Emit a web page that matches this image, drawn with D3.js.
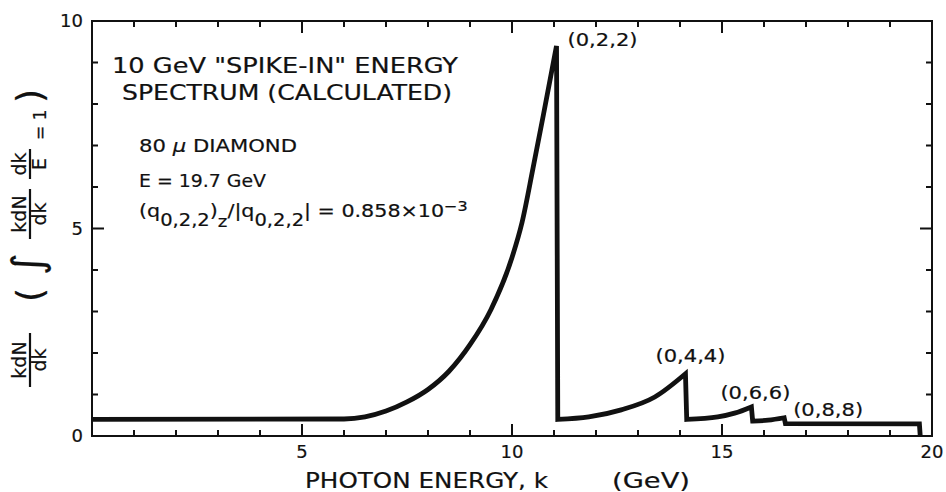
<!DOCTYPE html>
<html>
<head>
<meta charset="utf-8">
<script src="https://cdn.jsdelivr.net/npm/d3@7"></script>
<style>
  html, body { margin: 0; padding: 0; background: #fff; }
  svg { display: block; }
  text { font-family: "DejaVu Sans", sans-serif; fill: #111; stroke: #111; stroke-width: 0.2px; }
</style>
</head>
<body>
<svg id="chart" width="946" height="492"></svg>
<script>
// Calculated photon spectrum k dN/dk versus photon energy k (GeV),
// one array pair per coherent branch, ending at each branch's edge.
const energy022 = [0, 6.0, 6.5, 7.0, 7.5, 8.0, 8.5, 9.0, 9.5, 10.0, 10.24, 10.5, 10.75, 11.06];
const yield022  = [0.40, 0.41, 0.46, 0.60, 0.82, 1.12, 1.56, 2.20, 3.05, 4.30, 5.15, 6.45, 7.75, 9.40];
const energy044 = [11.09, 11.83, 12.6, 13.4, 14.13];
const yield044  = [0.40, 0.46, 0.63, 0.94, 1.50];
const energy066 = [14.16, 14.9, 15.3, 15.70];
const yield066  = [0.40, 0.46, 0.55, 0.70];
const energy088 = [15.73, 16.1, 16.48];
const yield088  = [0.36, 0.38, 0.44];
const energyTail = [16.51, 19.70, 19.72];
const yieldTail  = [0.30, 0.29, 0.0];

const branchNames = ["(0,2,2)", "(0,4,4)", "(0,6,6)", "(0,8,8)"];

const xMajorTicks = [5, 10, 15, 20];
const xTickLabels = ["5", "10", "15", "20"];
const xMinorTicks = [1, 2, 3, 4, 6, 7, 8, 9, 11, 12, 13, 14, 16, 17, 18, 19];
const yMajorTicks = [0, 5, 10];
const yTickLabels = ["0", "5", "10"];
const yMinorTicks = [1, 2, 3, 4, 6, 7, 8, 9];

const svg = d3.select("#chart");
const W = 946, H = 492;
const plotLeft = 92, plotRight = 932, plotTop = 21, plotBottom = 436;

const x = d3.scaleLinear().domain([0, 20]).range([plotLeft, plotRight]);
const y = d3.scaleLinear().domain([0, 10]).range([plotBottom, plotTop]);

svg.append("rect").attr("width", W).attr("height", H).attr("fill", "#fff");

// frame
svg.append("rect")
  .attr("x", plotLeft).attr("y", plotTop)
  .attr("width", plotRight - plotLeft).attr("height", plotBottom - plotTop)
  .attr("fill", "none").attr("stroke", "#111").attr("stroke-width", 2);

// ---- inward ticks on all four sides of the frame (filled bars) ----
const MINOR = 6, MAJOR = 12, TW = 2;
const tickBars = [];
xMinorTicks.forEach(v => tickBars.push({ v, len: MINOR, axis: "x" }));
xMajorTicks.filter(v => v < 20).forEach(v => tickBars.push({ v, len: MAJOR, axis: "x" }));
yMinorTicks.forEach(v => tickBars.push({ v, len: MINOR, axis: "y" }));
yMajorTicks.filter(v => v > 0 && v < 10).forEach(v => tickBars.push({ v, len: MAJOR, axis: "y" }));

const tickG = svg.append("g").attr("fill", "#111");
tickBars.forEach(t => {
  if (t.axis === "x") {
    tickG.append("rect").attr("x", x(t.v) - TW / 2).attr("y", plotBottom - t.len)
      .attr("width", TW).attr("height", t.len);
    tickG.append("rect").attr("x", x(t.v) - TW / 2).attr("y", plotTop)
      .attr("width", TW).attr("height", t.len);
  } else {
    tickG.append("rect").attr("x", plotLeft).attr("y", y(t.v) - TW / 2)
      .attr("width", t.len).attr("height", TW);
    tickG.append("rect").attr("x", plotRight - t.len).attr("y", y(t.v) - TW / 2)
      .attr("width", t.len).attr("height", TW);
  }
});

// tick labels
svg.append("g").selectAll("text").data(xMajorTicks).join("text")
  .attr("x", d => x(d)).attr("y", 458)
  .attr("text-anchor", "middle").attr("font-size", 18)
  .text((d, i) => xTickLabels[i]);
svg.append("g").selectAll("text").data(yMajorTicks).join("text")
  .attr("x", plotLeft - 9).attr("y", d => y(d)).attr("dy", "0.36em")
  .attr("text-anchor", "end").attr("font-size", 18)
  .text((d, i) => yTickLabels[i]);

// ---- spectrum: smooth rise within each branch, sharp drop at each edge ----
const zip = (ks, vs) => ks.map((k, i) => [k, vs[i]]);
const smooth = d3.line().x(d => x(d[0])).y(d => y(d[1])).curve(d3.curveMonotoneX);
const straight = d3.line().x(d => x(d[0])).y(d => y(d[1]));

const branches = [
  zip(energy022, yield022),
  zip(energy044, yield044),
  zip(energy066, yield066),
  zip(energy088, yield088)
];
const pieces = branches.map(b => smooth(b));
pieces.push(straight(zip(energyTail, yieldTail)));
const pathD = pieces.map((p, i) => i === 0 ? p : "L" + p.slice(1)).join("");

svg.append("path")
  .attr("d", pathD)
  .attr("fill", "none")
  .attr("stroke", "#111")
  .attr("stroke-width", 4.8)
  .attr("stroke-linejoin", "miter")
  .attr("stroke-linecap", "butt");

// ---- branch labels placed at each edge ----
const labelOffsets = [
  { dx: 11, dy: 0, anchor: "start" },
  { dx: 5, dy: -12, anchor: "middle" },
  { dx: 4, dy: -8, anchor: "middle" },
  { dx: 9, dy: -2, anchor: "start" }
];
branches.forEach((b, i) => {
  const peak = b[b.length - 1];
  const o = labelOffsets[i];
  svg.append("text")
    .attr("x", x(peak[0]) + o.dx)
    .attr("y", y(peak[1]) + o.dy)
    .attr("text-anchor", o.anchor)
    .attr("font-size", 18)
    .attr("textLength", 70)
    .attr("lengthAdjust", "spacingAndGlyphs")
    .text(branchNames[i]);
});

// ---- annotation block ----
function stretched(txt, x0, y0, size, width) {
  return svg.append("text").attr("x", x0).attr("y", y0).attr("font-size", size)
    .attr("textLength", width).attr("lengthAdjust", "spacingAndGlyphs").text(txt);
}
stretched('10 GeV "SPIKE-IN" ENERGY', 112, 73, 21, 346);
stretched("SPECTRUM (CALCULATED)", 122, 100, 21, 330);

const t3 = svg.append("text").attr("x", 139).attr("y", 152).attr("font-size", 18)
  .attr("textLength", 158).attr("lengthAdjust", "spacingAndGlyphs");
t3.append("tspan").text("80 ");
t3.append("tspan").attr("font-style", "italic").text("\u03bc");
t3.append("tspan").text(" DIAMOND");

stretched("E = 19.7 GeV", 139, 187, 18, 127);

// polarization ratio line with sub/superscripts, scaled to its width
const t5g = svg.append("g");
const t5 = t5g.append("text").attr("x", 0).attr("y", 0).attr("font-size", 18);
t5.append("tspan").text("(q");
t5.append("tspan").attr("dy", 9).attr("font-size", 17).text("0,2,2");
t5.append("tspan").attr("dy", -9).text(")");
t5.append("tspan").attr("dy", 10).attr("font-size", 16).text("z");
t5.append("tspan").attr("dy", -10).text("/|q");
t5.append("tspan").attr("dy", 9).attr("font-size", 17).text("0,2,2");
t5.append("tspan").attr("dy", -9).text("| = 0.858\u00d710");
t5.append("tspan").attr("dy", -6).attr("font-size", 14).text("\u22123");
const t5w = t5.node().getComputedTextLength();
t5g.attr("transform", `translate(139,217) scale(${329 / t5w},1)`);

// ---- axis titles ----
stretched("PHOTON ENERGY, k", 305, 488, 21, 243);
stretched("(GeV)", 612, 488, 21, 78);

// y title: k dN/dk  ( ∫ k dN/dk  dk/E = 1 ), written bottom-to-top
const yt = svg.append("g").attr("transform", "translate(30,436) rotate(-90)");
function fraction(g, cx, num, den, w) {
  g.append("text").attr("x", cx).attr("y", -4).attr("text-anchor", "middle")
    .attr("font-size", 19).text(num);
  g.append("text").attr("x", cx).attr("y", 16).attr("text-anchor", "middle")
    .attr("font-size", 19).text(den);
  g.append("line").attr("x1", cx - w / 2).attr("x2", cx + w / 2)
    .attr("y1", 0).attr("y2", 0).attr("stroke", "#111").attr("stroke-width", 2.2);
}
fraction(yt, 76, "kdN", "dk", 54);
yt.append("text").attr("x", 141).attr("y", 12).attr("text-anchor", "middle")
  .attr("font-size", 36).text("(");
yt.append("text").attr("x", 172).attr("y", 12).attr("text-anchor", "middle")
  .attr("font-size", 42).text("\u222b");
fraction(yt, 222, "kdN", "dk", 50);
fraction(yt, 272, "dk", "E", 30);
yt.append("text").attr("x", 296).attr("y", 16).attr("font-size", 17).text("= 1");
yt.append("text").attr("x", 340).attr("y", 12).attr("text-anchor", "middle")
  .attr("font-size", 36).text(")");
</script>
</body>
</html>
